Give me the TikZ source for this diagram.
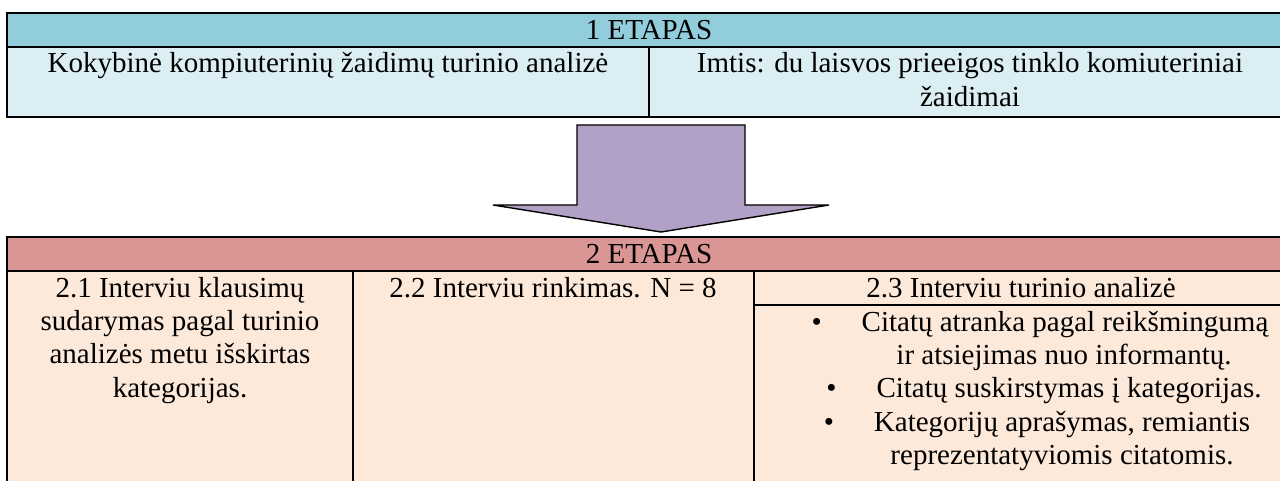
\documentclass[tikz,border=0pt]{standalone}
\usepackage{fontspec}
\setmainfont{Liberation Serif}
\definecolor{hdrA}{HTML}{92CDDC}
\definecolor{rowA}{HTML}{DAEEF3}
\definecolor{hdrB}{HTML}{D99694}
\definecolor{rowB}{HTML}{FDE9D9}
\definecolor{arrowC}{HTML}{B2A1C7}
\begin{document}
\begin{tikzpicture}[x=1pt,y=-1pt,
  every node/.style={inner sep=0pt, outer sep=0pt, font=\fontsize{29pt}{33.4pt}\selectfont},
  txt/.style={anchor=base},
  tbl/.style={line width=1.6pt, line cap=rect},
  blockarrow/.style={fill=arrowC, draw=black, line width=1.4pt, line join=miter}]
\useasboundingbox (0,0) rectangle (1280,481);
\clip (0,0) rectangle (1280,481);
% ---------- table 1 ----------
\fill[hdrA] (7,13) rectangle (1291,47);
\fill[rowA] (7,47) rectangle (1291,117);
\draw[tbl] (7,13) rectangle (1291,117);
\draw[tbl] (7,47) -- (1291,47);
\draw[tbl] (649,47) -- (649,117);
\node[txt] (h1) at (649,40) {1 ETAPAS};
\node[txt] (t1a) at (328,73) {Kokybinė kompiuterinių žaidimų turinio analizė};
\node[txt] (t1b) at (970,73) {Imtis: du laisvos prieeigos tinklo komiuteriniai};
\node[txt] (t1c) at (970,106.4) {žaidimai};
% ---------- arrow ----------
\draw[blockarrow] (577,125) -- (745,125) -- (745,205) -- (829,205) -- (661,232)
  -- (493,205) -- (577,205) -- cycle;
% ---------- table 2 ----------
\fill[hdrB] (7,237) rectangle (1291,271);
\fill[rowB] (7,271) rectangle (1291,500);
\draw[tbl] (7,500) -- (7,237) -- (1291,237) -- (1291,500);
\draw[tbl] (7,271) -- (1291,271);
\draw[tbl] (353,271) -- (353,500);
\draw[tbl] (754,271) -- (754,500);
\draw[tbl] (754,305) -- (1291,305);
\node[txt] (h2) at (649,263) {2 ETAPAS};
\node[txt] (c1a) at (180,297) {2.1 Interviu klausimų};
\node[txt] (c1b) at (180,330.4) {sudarymas pagal turinio};
\node[txt] (c1c) at (180,363.8) {analizės metu išskirtas};
\node[txt] (c1d) at (180,397.2) {kategorijas.};
\node[txt] (c2a) at (553,297) {2.2 Interviu rinkimas. N = 8};
\node[txt] (c3h) at (1021,297) {2.3 Interviu turinio analizė};
\node[txt] (i1a) at (1065,331) {Citatų atranka pagal reikšmingumą};
\node[txt] (i1b) at (1064,364.4) {ir atsiejimas nuo informantų.};
\node[txt] (i2a) at (1069,397.8) {Citatų suskirstymas į kategorijas.};
\node[txt] (i3a) at (1062,431.2) {Kategorijų aprašymas, remiantis};
\node[txt] (i3b) at (1062,464.6) {reprezentatyviomis citatomis.};
\node[txt] (bu1) at ([xshift=-45pt]i1a.base west) {•};
\node[txt] (bu2) at ([xshift=-45pt]i2a.base west) {•};
\node[txt] (bu3) at ([xshift=-45pt]i3a.base west) {•};
\end{tikzpicture}
\end{document}
